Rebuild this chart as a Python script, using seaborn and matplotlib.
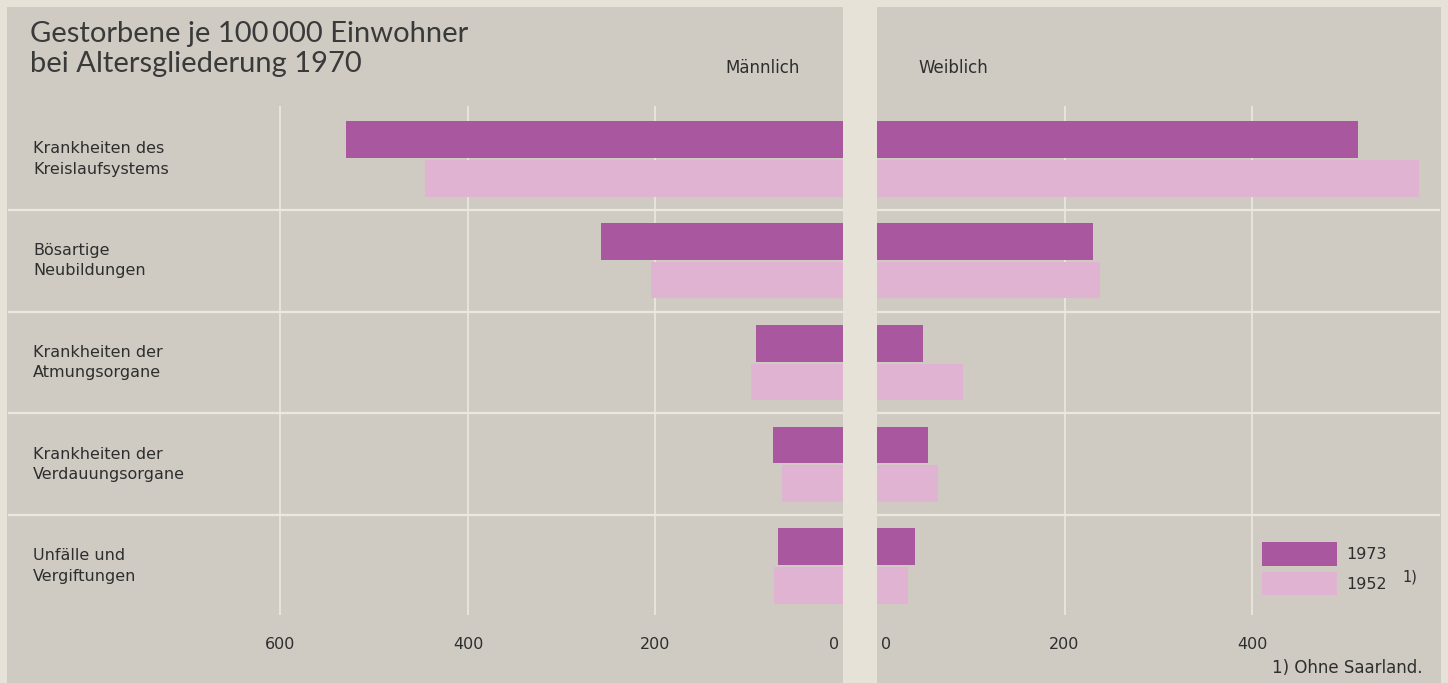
import pandas as pd
import matplotlib.pyplot as plt
import matplotlib.transforms as mtransforms
from matplotlib.patches import Rectangle
import seaborn as sns

# Data (deaths per 100 000 inhabitants)
causes = ['Krankheiten des\nKreislaufsystems', 'Bösartige\nNeubildungen',
          'Krankheiten der\nAtmungsorgane', 'Krankheiten der\nVerdauungsorgane',
          'Unfälle und\nVergiftungen']
years = ['1973', '1952']
male_1973 = [530, 258, 93, 75, 69]
male_1952 = [446, 205, 98, 65, 74]
female_1973 = [513, 230, 49, 54, 41]
female_1952 = [578, 238, 92, 65, 33]
ticks_left = [0, 200, 400, 600]
ticks_right = [0, 200, 400]

df_m = pd.DataFrame({'cause': causes * 2, 'year': ['1973'] * 5 + ['1952'] * 5,
                     'value': male_1973 + male_1952})
df_f = pd.DataFrame({'cause': causes * 2, 'year': ['1973'] * 5 + ['1952'] * 5,
                     'value': female_1973 + female_1952})

W, H = 1448, 683
gray = '#cfcbc3'
paper = '#e6e2d8'
line_col = '#ebe8e1'
text_col = '#2e2e2e'
pal = {'1973': '#a9579f', '1952': '#e0b3d3'}

plt.rcParams['font.family'] = ['DejaVu Sans']
fig = plt.figure(figsize=(W / 100, H / 100), dpi=100, facecolor=gray)

def px_axes(x0, x1, ytop, ybot):
    return fig.add_axes([x0 / W, 1 - ybot / H, (x1 - x0) / W, (ybot - ytop) / H])

ax_l = px_axes(8, 843, 106, 615)
ax_r = px_axes(877, 1440, 106, 615)

sns.barplot(data=df_m, x='value', y='cause', hue='year', hue_order=years, orient='h',
            palette=pal, width=0.76, gap=0.05, saturation=1, linewidth=0,
            legend=False, ax=ax_l, zorder=3)
sns.barplot(data=df_f, x='value', y='cause', hue='year', hue_order=years, orient='h',
            palette=pal, width=0.76, gap=0.05, saturation=1, linewidth=0,
            legend=True, ax=ax_r, zorder=3)

scale = 200 / 187.5
ax_l.set_xlim((843 - 8) * scale, 0)
ax_r.set_xlim(0, (1440 - 877) * scale)

for ax, ticks in [(ax_l, ticks_left), (ax_r, ticks_right)]:
    ax.set_facecolor(gray)
    ax.set_ylim(4.48, -0.52)
    for s in ax.spines.values():
        s.set_visible(False)
    ax.set_xlabel('')
    ax.set_ylabel('')
    ax.set_yticks([])
    ax.set_xticks(ticks)
    ax.set_xticklabels([str(t) for t in ticks])
    ax.tick_params(axis='x', length=0, pad=16, labelsize=11.5, labelcolor=text_col)
    for t in ticks[1:]:
        ax.axvline(t, color=line_col, lw=1.2, zorder=1)
    for k in range(len(causes)):
        ax.axhline(k + 0.5, color=line_col, lw=1.6, zorder=2)

# zero labels sit just beside the centre gap
lab0 = ax_l.get_xticklabels()[0]
lab0.set_horizontalalignment('right')
lab0.set_transform(lab0.get_transform() + mtransforms.ScaledTranslation(-3 / 72, 0, fig.dpi_scale_trans))
lab0r = ax_r.get_xticklabels()[0]
lab0r.set_horizontalalignment('left')
lab0r.set_transform(lab0r.get_transform() + mtransforms.ScaledTranslation(3 / 72, 0, fig.dpi_scale_trans))

# category labels
for i, c in enumerate(causes):
    ax_l.text((33 - 8) / (843 - 8), i, c, transform=ax_l.get_yaxis_transform(),
              ha='left', va='center', fontsize=11.5, color=text_col, linespacing=1.45)

# paper edges and centre gap
fig.patches.append(Rectangle((843 / W, 0), 34 / W, 1, transform=fig.transFigure,
                             facecolor=paper, edgecolor='none', zorder=5))
fig.patches.append(Rectangle((0, 0), 7 / W, 1, transform=fig.transFigure,
                             facecolor=paper, edgecolor='none', zorder=5))
fig.patches.append(Rectangle((1441 / W, 0), 7 / W, 1, transform=fig.transFigure,
                             facecolor=paper, edgecolor='none', zorder=5))
fig.patches.append(Rectangle((0, 1 - 7 / H), 1, 7 / H, transform=fig.transFigure,
                             facecolor=paper, edgecolor='none', zorder=5))

fig.text(30 / W, 1 - 21 / H, 'Gestorbene je 100\u2009000 Einwohner\nbei Altersgliederung 1970',
         ha='left', va='top', fontsize=21, color='#3a3a3a', linespacing=1.2,
         family=['Lato', 'DejaVu Sans'], fontweight='normal')
fig.text(725 / W, 1 - 68 / H, 'Männlich', ha='left', va='center', fontsize=12, color=text_col)
fig.text(918 / W, 1 - 68 / H, 'Weiblich', ha='left', va='center', fontsize=12, color=text_col)

sns.move_legend(ax_r, 'upper left', bbox_to_anchor=(1262 / W, 1 - 542 / H),
                bbox_transform=fig.transFigure, title=None, frameon=False,
                fontsize=11.5, handlelength=4.7, handleheight=1.9, handletextpad=0.6,
                labelspacing=0.38, borderpad=0, borderaxespad=0)
for t in ax_r.get_legend().get_texts():
    t.set_color(text_col)
fig.text(1402 / W, 1 - 577 / H, '1)', ha='left', va='center', fontsize=10.5, color=text_col)
fig.text(1422 / W, 1 - 668 / H, '1) Ohne Saarland.', ha='right', va='center',
         fontsize=12, color=text_col)

fig.savefig('out.png', dpi=100, facecolor=gray)
